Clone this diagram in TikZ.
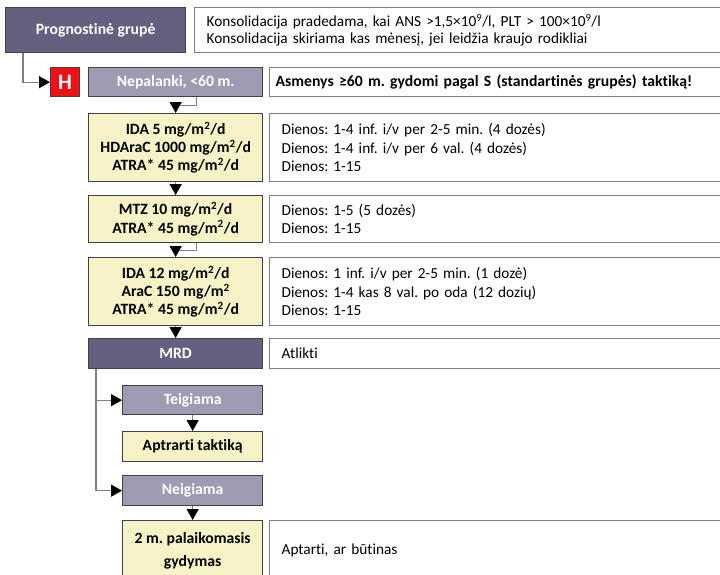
\documentclass[tikz,border=0pt]{standalone}
\usepackage{fontspec}
\setmainfont{Carlito}[Ligatures=NoCommon]
\usetikzlibrary{arrows.meta}
\frenchspacing

\definecolor{slatedark}{HTML}{646080}
\definecolor{slatelight}{HTML}{9E9BB2}
\definecolor{cream}{HTML}{F8F3C6}
\definecolor{hred}{HTML}{F00F14}
\definecolor{edgegray}{HTML}{7F7F7F}
\definecolor{edgedark}{HTML}{404048}

\newcommand{\regfont}{\fontsize{15.3}{18.3}\selectfont}
\newcommand{\boldfont}{\fontsize{15.7}{18.3}\selectfont\bfseries}

\tikzset{
  basebox/.style={rectangle, anchor=north west, inner sep=0pt, line width=1.3pt, font=\regfont},
  darkbox/.style={basebox, draw=edgedark, fill=slatedark, text=white, font=\boldfont},
  lightbox/.style={basebox, draw=edgedark, fill=slatelight, text=white, font=\boldfont},
  drugbox/.style={basebox, draw=edgedark, fill=cream, text=black, align=center, font=\boldfont},
  notebox/.style={basebox, draw=edgegray, fill=white, text=black, align=left,
    inner xsep=12pt, text width=436pt, minimum width=460pt},
  hbox/.style={basebox, draw=edgedark, fill=hred, text=white, font=\fontsize{22}{22}\selectfont\bfseries,
    minimum width=29pt, minimum height=29pt},
  conn/.style={draw=edgegray, line width=1.3pt,
    -{Triangle[length=11pt,width=12pt,fill=black,color=black]}},
}

\begin{document}
\begin{tikzpicture}[x=1pt,y=-1pt]
\useasboundingbox (0,0) rectangle (720,574);
\clip (0,0) rectangle (720,574);

% header row
\node[darkbox, minimum width=180pt, minimum height=45pt] (prog) at (5,7) {Prognostinė grupė};
\node[notebox, minimum height=45pt, text width=516pt, minimum width=540pt,
  font=\fontsize{15.3}{17}\selectfont] (cons) at (194,7)
  {Konsolidacija pradedama, kai ANS >1,5×10\textsuperscript{9}/l, PLT > 100×10\textsuperscript{9}/l\\
   Konsolidacija skiriama kas mėnesį, jei leidžia kraujo rodikliai};

% high-risk branch
\node[hbox] (hr) at (50,67) {H};
\node[lightbox, minimum width=174pt, minimum height=29pt] (nep) at (88,67) {Nepalanki, <60 m.};
\node[notebox, minimum height=29pt, fill=white!98!cream, inner xsep=6pt, text width=448pt,
  font=\boldfont] (old) at (269,67)
  {Asmenys ≥60 m. gydomi pagal S (standartinės grupės) taktiką!};

% consolidation courses
\node[drugbox, minimum width=174pt, minimum height=68pt] (ida1) at (88,113)
  {IDA 5 mg/m\textsuperscript{2}/d\\HDAraC 1000 mg/m\textsuperscript{2}/d\\ATRA* 45 mg/m\textsuperscript{2}/d};
\node[notebox, minimum height=68pt] (ida1n) at (269,113)
  {Dienos: 1-4 inf. i/v per 2-5 min. (4 dozės)\\Dienos: 1-4 inf. i/v per 6 val. (4 dozės)\\Dienos: 1-15};

\node[drugbox, minimum width=174pt, minimum height=47pt] (mtz) at (88,195)
  {MTZ 10 mg/m\textsuperscript{2}/d\\ATRA* 45 mg/m\textsuperscript{2}/d};
\node[notebox, minimum height=47pt] (mtzn) at (269,195)
  {Dienos: 1-5 (5 dozės)\\Dienos: 1-15};

\node[drugbox, minimum width=174pt, minimum height=68pt] (ida2) at (88,257)
  {IDA 12 mg/m\textsuperscript{2}/d\\AraC 150 mg/m\textsuperscript{2}\\ATRA* 45 mg/m\textsuperscript{2}/d};
\node[notebox, minimum height=68pt] (ida2n) at (269,257)
  {Dienos: 1 inf. i/v per 2-5 min. (1 dozė)\\Dienos: 1-4 kas 8 val. po oda (12 dozių)\\Dienos: 1-15};

% MRD assessment
\node[darkbox, minimum width=174pt, minimum height=30pt] (mrd) at (88,338) {MRD};
\node[notebox, minimum height=30pt] (mrdn) at (269,338) {Atlikti};

\node[lightbox, minimum width=140pt, minimum height=29pt] (pos) at (122,385) {Teigiama};
\node[drugbox, minimum width=140pt, minimum height=30pt] (posact) at (122,431) {Aptrarti taktiką};
\node[lightbox, minimum width=140pt, minimum height=30pt] (neg) at (122,475) {Neigiama};
\node[drugbox, minimum width=140pt, minimum height=60pt, font=\fontsize{15.7}{23}\selectfont\bfseries] (maint) at (122,520)
  {2 m. palaikomasis\\gydymas};
\node[notebox, minimum height=60pt] (maintn) at (269,520) {Aptarti, ar būtinas};

% connectors
\coordinate (progdrop) at ([xshift=18pt]prog.south west);
\draw[conn] (progdrop) |- (hr.west);

\coordinate (nepdrop) at ([xshift=21pt]nep.south);
\draw[conn] (nepdrop) -- ++(0,8) -| (ida1.north);
\draw[conn] (ida1.south) -- (mtz.north);
\coordinate (mtzdrop) at ([xshift=21pt]mtz.south);
\draw[conn] (mtzdrop) -- ++(0,7) -| (ida2.north);
\draw[conn] (ida2.south) -- (mrd.north);

\coordinate (mrddrop) at ([xshift=8pt]mrd.south west);
\draw[conn] (mrddrop) |- (pos.west);
\draw[conn] (mrddrop) |- (neg.west);
\draw[conn] (pos.south) -- (posact.north);
\draw[conn] (neg.south) -- (maint.north);
\end{tikzpicture}
\end{document}
